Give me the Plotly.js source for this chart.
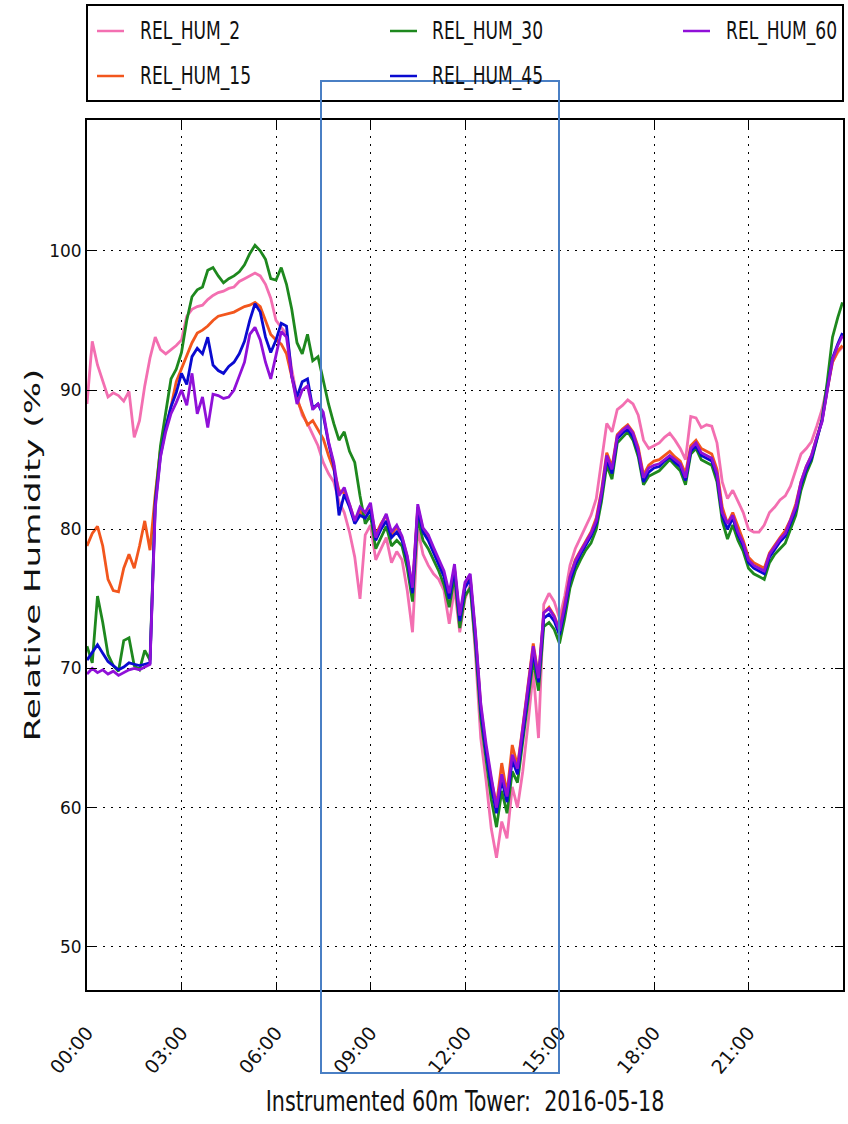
<!DOCTYPE html>
<html>
<head>
<meta charset="utf-8">
<script src="https://cdn.plot.ly/plotly-3.0.1.min.js"></script>
<style>html,body{margin:0;padding:0;background:#fff;}#chart{width:848px;height:1124px;}</style>
</head>
<body>
<div id="chart"></div>
<script>
// ---- data (10-minute samples, 2016-05-18) ----
const DATE = "2016-05-18";
const HOURS = ["00","01","02","03","04","05","06","07","08","09","10","11","12","13","14","15","16","17","18","19","20","21","22","23"];
const MINUTES = ["00","10","20","30","40","50"];
const LAST_TIME = "23:59";

const TICK_LABELS = ["00:00","03:00","06:00","09:00","12:00","15:00","18:00","21:00"];
const Y_TICKS = [50, 60, 70, 80, 90, 100];

const SERIES_NAMES = ["REL_HUM_2","REL_HUM_15","REL_HUM_30","REL_HUM_45","REL_HUM_60"];

const REL_HUM_2 = [
  89.0, 93.5, 91.8, 90.6, 89.5, 89.8,
  89.6, 89.2, 89.9, 86.6, 87.8, 90.3,
  92.3, 93.8, 92.9, 92.6, 92.9, 93.2,
  93.6, 95.3, 95.8, 96.0, 96.1, 96.5,
  96.8, 97.0, 97.1, 97.3, 97.4, 97.8,
  98.0, 98.2, 98.4, 98.2, 97.6, 96.6,
  95.0, 94.5, 94.0, 91.5, 89.5, 88.2,
  87.6, 86.8, 86.0, 84.8, 84.0, 83.4,
  82.0, 81.2, 79.8, 78.0, 75.0, 79.6,
  80.3, 77.8, 78.6, 79.4, 77.6, 78.4,
  77.8, 75.6, 72.6, 80.0, 78.2, 77.4,
  76.8, 76.4, 75.6, 73.2, 75.8, 72.6,
  75.0, 76.0, 71.0, 65.0, 62.0, 58.5,
  56.4, 59.0, 57.8, 61.5, 60.0, 62.6,
  66.0, 69.8, 65.0, 74.6, 75.4, 74.8,
  73.6, 75.2, 77.4, 78.6, 79.4, 80.2,
  81.0, 82.2, 84.8, 87.6, 87.0, 88.6,
  88.9, 89.3, 89.0, 88.2, 86.4, 85.8,
  86.0, 86.2, 86.6, 86.9, 86.4, 85.8,
  85.0, 88.1, 88.0, 87.3, 87.5, 87.4,
  86.2, 83.4, 82.2, 82.8, 82.0, 81.2,
  80.0, 79.8, 79.8, 80.3, 81.2, 81.6,
  82.1, 82.4, 83.1, 84.2, 85.4, 85.8,
  86.3, 87.4, 88.6, 90.3, 92.0, 92.7,
  93.1
];
const REL_HUM_15 = [
  78.8, 79.7, 80.2, 78.8, 76.4, 75.6,
  75.5, 77.2, 78.2, 77.2, 78.8, 80.6,
  78.5, 82.5, 85.8, 87.3, 88.8, 90.6,
  91.5, 92.5, 93.4, 94.1, 94.3, 94.6,
  95.0, 95.3, 95.4, 95.5, 95.6, 95.8,
  96.0, 96.1, 96.3, 96.0, 95.0, 94.0,
  93.6, 93.3, 92.6, 91.0, 89.3, 88.4,
  87.5, 87.8, 87.2, 86.5, 85.3, 84.3,
  82.8, 82.6, 81.8, 80.6, 81.3, 80.8,
  81.5, 79.6, 80.4, 81.0, 79.6, 80.2,
  79.4, 78.0, 75.8, 81.6, 80.0, 79.4,
  78.4, 77.6, 76.8, 75.2, 77.2, 73.6,
  76.0, 76.5, 72.4, 67.3, 64.2, 62.0,
  60.2, 63.2, 61.0, 64.5, 63.0, 65.8,
  68.6, 71.8, 69.4, 74.0, 74.4, 73.8,
  72.8, 74.6, 76.6, 77.8, 78.5, 79.2,
  79.8, 80.8, 82.8, 85.5, 84.5, 86.8,
  87.2, 87.5, 87.0, 85.9, 83.9, 84.6,
  84.9, 85.0, 85.3, 85.6, 85.2, 84.9,
  84.0, 86.0, 86.4, 85.8, 85.6, 85.4,
  84.3, 81.6, 80.4, 81.2, 80.2, 79.2,
  78.0, 77.6, 77.4, 77.2, 78.3, 78.9,
  79.4, 79.9, 80.7, 81.8, 83.4, 84.5,
  85.3, 86.6, 87.8, 90.0, 92.0, 92.8,
  93.2
];
const REL_HUM_30 = [
  71.6, 70.4, 75.2, 73.3, 71.0, 70.2,
  69.8, 72.0, 72.2, 70.2, 69.9, 71.3,
  70.6, 82.0, 86.0, 88.5, 90.8, 91.5,
  92.7, 95.0, 96.7, 97.2, 97.4, 98.6,
  98.8, 98.2, 97.7, 98.0, 98.2, 98.5,
  99.0, 99.8, 100.4, 100.0, 99.4, 98.0,
  97.9, 98.8, 97.6, 95.8, 93.4, 92.6,
  94.0, 92.1, 92.4, 90.7, 89.0, 87.6,
  86.4, 87.0, 85.6, 84.8, 82.4, 80.4,
  81.0, 78.6, 79.4, 80.2, 78.8, 79.2,
  78.8, 77.2, 74.8, 80.8, 79.2, 78.6,
  77.8, 77.0, 76.0, 74.4, 76.6, 72.9,
  75.2, 75.8, 71.6, 66.4, 63.5, 60.6,
  58.6, 61.2, 59.6, 62.6, 61.8, 64.6,
  67.5, 70.6, 68.4, 73.0, 73.3, 72.8,
  71.8, 73.6, 75.8, 77.0, 77.8, 78.5,
  79.0, 80.0, 82.0, 84.6, 83.6, 86.2,
  86.6, 87.0, 86.4, 85.2, 83.2, 83.8,
  84.0, 84.2, 84.6, 85.0, 84.6, 84.2,
  83.2, 85.4, 85.8, 85.0, 84.8, 84.6,
  83.4, 80.6, 79.3, 80.3, 79.2, 78.4,
  77.2, 76.8, 76.6, 76.4, 77.6, 78.2,
  78.6, 79.0, 80.0, 81.0, 82.8, 84.0,
  84.9, 86.4, 87.9, 90.6, 93.8, 95.2,
  96.3
];
const REL_HUM_45 = [
  70.6, 71.2, 71.7, 71.1, 70.5, 70.2,
  69.9, 70.1, 70.4, 70.3, 70.2, 70.3,
  70.4, 81.8, 85.3, 87.3, 88.8, 89.8,
  91.2, 90.4, 92.4, 93.0, 92.6, 93.8,
  91.8, 91.4, 91.2, 91.7, 92.0, 92.6,
  93.5, 95.0, 96.2, 95.6, 93.8, 92.7,
  93.6, 94.8, 94.6, 91.0, 89.5, 90.6,
  90.8, 88.7, 89.0, 88.2, 86.2, 84.6,
  81.0, 82.5, 81.6, 80.4, 81.0, 80.8,
  81.4, 79.2, 80.0, 80.6, 79.4, 79.8,
  79.2, 77.8, 75.4, 81.4, 79.8, 79.2,
  78.3, 77.5, 76.6, 75.0, 77.1, 73.4,
  75.8, 76.4, 72.2, 67.0, 64.0, 61.5,
  59.6, 62.0, 60.4, 63.4, 62.4, 65.2,
  68.2, 71.2, 69.0, 73.6, 73.9, 73.4,
  72.4, 74.2, 76.3, 77.4, 78.2, 78.9,
  79.5, 80.4, 82.4, 85.0, 84.0, 86.5,
  86.9, 87.2, 86.6, 85.5, 83.4, 84.1,
  84.4, 84.5, 84.9, 85.2, 84.8, 84.5,
  83.5, 85.6, 86.0, 85.3, 85.1, 84.9,
  83.8, 81.0, 80.0, 80.8, 79.6, 78.8,
  77.6, 77.2, 77.0, 76.8, 78.0, 78.6,
  79.1, 79.5, 80.4, 81.4, 83.2, 84.3,
  85.1, 86.5, 87.8, 90.1, 92.3, 93.3,
  94.1
];
const REL_HUM_60 = [
  69.6, 70.0, 69.7, 69.9, 69.6, 69.8,
  69.5, 69.7, 69.9, 70.0, 69.9, 70.1,
  70.3, 81.5, 85.2, 87.0, 88.3, 89.1,
  90.0, 88.9, 91.2, 88.3, 89.5, 87.3,
  89.7, 89.6, 89.4, 89.5, 90.0, 91.0,
  92.0, 94.0, 94.5, 93.6, 92.0, 90.8,
  92.6, 94.2, 93.8, 91.0, 89.0, 90.0,
  90.3, 88.6, 89.0, 88.4, 86.3, 84.8,
  82.4, 83.0, 81.8, 80.6, 81.6, 81.2,
  81.9, 79.4, 80.3, 81.1, 79.8, 80.3,
  79.5, 78.1, 75.8, 81.8, 80.1, 79.6,
  78.7, 77.9, 77.0, 75.4, 77.5, 73.8,
  76.2, 76.8, 72.6, 67.5, 64.6, 62.2,
  60.0, 62.4, 60.8, 63.8, 62.8, 65.7,
  68.6, 71.6, 69.3, 74.0, 74.3, 73.7,
  72.7, 74.5, 76.6, 77.7, 78.4, 79.1,
  79.7, 80.6, 82.6, 85.3, 84.3, 86.7,
  87.1, 87.4, 86.9, 85.7, 83.7, 84.4,
  84.6, 84.7, 85.0, 85.3, 85.0, 84.7,
  83.7, 85.8, 86.2, 85.5, 85.3, 85.1,
  84.0, 81.2, 80.4, 81.0, 79.8, 79.0,
  77.8, 77.4, 77.2, 77.0, 78.2, 78.8,
  79.3, 79.7, 80.6, 81.6, 83.4, 84.5,
  85.3, 86.6, 87.7, 90.0, 92.2, 93.2,
  93.9
];

// ---- build ----
const times = [];
HOURS.forEach(h => MINUTES.forEach(m => times.push(DATE + " " + h + ":" + m)));
times.push(DATE + " " + LAST_TIME);

const COLORS = ["#f36fb1", "#f2561d", "#1e881e", "#0a0ad0", "#9010d8"];
const VALUES = [REL_HUM_2, REL_HUM_15, REL_HUM_30, REL_HUM_45, REL_HUM_60];

const traces = VALUES.map((v, i) => ({
  type: "scatter", mode: "lines", x: times, y: v, name: SERIES_NAMES[i],
  line: {color: COLORS[i], width: 2.8}, showlegend: false, hoverinfo: "skip"
}));

// plot area in pixels: left 87, right 843, top 120, bottom 990
const PL = 87, PR = 843, PT = 120, PB = 990;
const px = x => (x - PL) / (PR - PL);
const py = y => (PB - y) / (PB - PT);

const shapes = [];
const annotations = [];
// legend box
shapes.push({type: "rect", xref: "paper", yref: "paper", x0: 0, x1: 1, y0: py(101), y1: py(5),
  line: {color: "#000", width: 2}, fillcolor: "#fff", layer: "above"});
// legend layout: column-wise like matplotlib (ncol=3)
const LEG_COLS = [[97, 138], [390, 430], [683, 724]];
const LEG_ROWS = [31, 76];
SERIES_NAMES.forEach((name, i) => {
  const c = Math.floor(i / 2), r = i % 2;
  const [lx, tx] = LEG_COLS[c];
  const yy = LEG_ROWS[r];
  shapes.push({type: "line", xref: "paper", yref: "paper", x0: px(lx), x1: px(lx + 27), y0: py(yy), y1: py(yy),
    line: {color: COLORS[i], width: 2.5}, layer: "above"});
  annotations.push({xref: "paper", yref: "paper", x: px(tx), y: py(yy), xanchor: "left", yanchor: "middle",
    text: name, showarrow: false, font: {family: "DejaVu Sans Condensed, DejaVu Sans", size: 19, color: "#111"}});
});
// highlight rectangle drawn over the figure
shapes.push({type: "rect", xref: "paper", yref: "paper", x0: px(321), x1: px(559), y0: py(1073), y1: py(81),
  line: {color: "#4a7fc4", width: 2}, fillcolor: "rgba(0,0,0,0)", layer: "above"});

const GRID_DASH = "2px,6px";

const layout = {
  width: 848, height: 1124,
  margin: {l: PL, r: 848 - PR, t: PT, b: 1124 - PB},
  paper_bgcolor: "#fff", plot_bgcolor: "#fff",
  showlegend: false,
  font: {family: "DejaVu Sans", color: "#111"},
  xaxis: {
    type: "date",
    range: [DATE + " 00:00", "2016-05-19 00:00"],
    tickmode: "array",
    tickvals: TICK_LABELS.map(t => DATE + " " + t),
    ticktext: TICK_LABELS,
    tickangle: -50,
    ticklabelstandoff: 22,
    tickfont: {family: "DejaVu Sans", size: 19, color: "#111"},
    ticks: "inside", ticklen: 8, tickwidth: 1, tickcolor: "#000",
    showline: true, linecolor: "#000", linewidth: 2, mirror: "ticks",
    showgrid: true, gridcolor: "#000", griddash: GRID_DASH, gridwidth: 1,
    zeroline: false,
    title: {text: "Instrumented 60m Tower:  2016-05-18",
      font: {family: "DejaVu Sans Condensed, DejaVu Sans", size: 23, color: "#111"}, standoff: 16}
  },
  yaxis: {
    range: [46.9, 109.4],
    tickmode: "array", tickvals: Y_TICKS, ticktext: Y_TICKS.map(String),
    tickfont: {family: "DejaVu Sans", size: 17, color: "#111"},
    ticks: "inside", ticklen: 8, tickwidth: 1, tickcolor: "#000",
    showline: true, linecolor: "#000", linewidth: 2, mirror: "ticks",
    showgrid: true, gridcolor: "#000", griddash: GRID_DASH, gridwidth: 1,
    zeroline: false,
    title: {text: "Relative Humidity (%)", font: {family: "DejaVu Sans", size: 22, color: "#111"}, standoff: 2}
  },
  shapes: shapes,
  annotations: annotations
};

// stretch a text element about its own centre (local coordinates)
function stretchText(el, sx, sy) {
  if (!el) return;
  const b = el.getBBox();
  const cx = b.x + b.width / 2, cy = b.y + b.height / 2;
  const prev = el.getAttribute("transform") || "";
  el.setAttribute("transform", prev + " translate(" + cx + "," + cy + ") scale(" + sx + "," + sy + ") translate(" + (-cx) + "," + (-cy) + ")");
}

Plotly.newPlot("chart", traces, layout, {staticPlot: true, displayModeBar: false}).then(gd => {
  stretchText(gd.querySelector(".ytitle"), 1.55, 1);
  stretchText(gd.querySelector(".xtitle"), 1, 1.22);
  gd.querySelectorAll(".annotation-text").forEach(t => stretchText(t, 1, 1.3));
});
</script>
</body>
</html>
